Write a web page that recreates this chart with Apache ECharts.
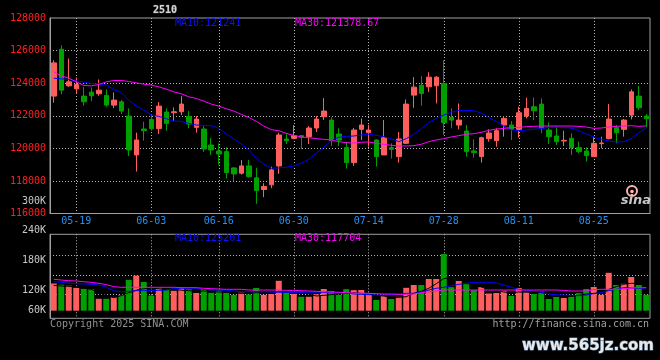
<!DOCTYPE html>
<html><head><meta charset="utf-8">
<script src="https://cdn.jsdelivr.net/npm/echarts@6/dist/echarts.min.js"></script>
<style>html,body{margin:0;padding:0;background:#000}#c{width:660px;height:360px}</style>
</head><body><div id="c"></div>
<script>
const dates = ['05-14','05-15','05-16','05-19','05-20','05-21','05-22','05-23','05-26','05-27',
'05-28','05-29','05-30','06-03','06-04','06-05','06-06','06-09','06-10','06-11',
'06-12','06-13','06-16','06-17','06-18','06-19','06-20','06-23','06-24','06-25',
'06-26','06-27','06-30','07-01','07-02','07-03','07-04','07-07','07-08','07-09',
'07-10','07-11','07-14','07-15','07-16','07-17','07-18','07-21','07-22','07-23',
'07-24','07-25','07-28','07-29','07-30','07-31','08-01','08-04','08-05','08-06',
'08-07','08-08','08-11','08-12','08-13','08-14','08-15','08-18','08-19','08-20',
'08-21','08-22','08-25','08-26','08-27','08-28','08-29','09-01','09-02','09-03'];
const tickLabels = ['05-19','06-03','06-16','06-30','07-14','07-28','08-11','08-25'];
const priceTicks = [116000,118000,120000,122000,124000,126000,128000];
const volTickLabels = ['240K','180K','120K','60K'];

const opens = [123205,126082,123838,123654,123205,123450,123348,123246,122654,122858,
121981,119594,121186,121777,121206,122226,122185,122246,121961,121287,
121186,120206,119839,119798,118799,118472,118921,118187,117473,117758,
118921,120574,120614,120778,120716,121247,121940,121736,120880,120043,
119125,121165,120961,120512,119594,120043,119492,120308,123266,123878,
123776,123838,123980,121900,121430,121063,119839,119492,120594,120472,
121430,121430,121165,121981,122552,122716,121124,120757,120451,120614,
120043,119839,119492,120288,120594,121267,121165,122042,123205,121981];
const closes = [125245,123572,124082,123919,122858,123226,123572,122654,122960,122287,
119900,120512,121084,121206,122593,121532,122246,122716,121492,121798,
119962,119900,119655,118513,118431,118921,118268,117412,117656,118676,
120818,120472,120778,120676,121247,121798,122287,120472,120512,119125,
121124,121430,121124,119492,120655,119941,120574,122716,123756,123368,
124368,124368,121573,121736,121736,119798,119737,120655,120941,121084,
121838,121165,122185,122450,122308,121226,120716,120410,120492,120043,
119798,119553,120308,120329,121798,120961,121736,123470,122491,121818];
const lows = [122797,123328,123776,123368,122614,122899,123226,122552,122471,122104,
119533,118574,120472,121084,120880,121084,121675,122042,121226,120961,
119778,119594,118982,118146,117983,118390,118207,116596,117004,117554,
118431,120268,120553,119941,120268,121002,121736,120145,120145,118758,
118921,120512,120104,118880,119594,119370,119125,120268,122491,122614,
123470,122756,120818,121226,121165,119492,119431,119125,120410,120104,
120716,120512,120655,121838,121736,120920,120268,120206,120145,119594,
119696,119186,119492,120002,120553,120308,120716,121777,122348,121287];
const highs = [125408,126326,125510,124348,123776,123736,124225,123613,123430,122960,
122450,120961,121634,122104,122838,122450,122512,123205,122287,121981,
121369,120635,120308,120064,118840,119288,119288,118799,117860,118880,
120961,120920,121430,120798,121369,121981,123083,121900,121226,120369,
121247,121838,121450,120553,121736,120308,121002,123001,124368,124429,
124674,124429,125408,122450,122756,121430,120553,120716,121165,121226,
121981,121675,122552,123103,123124,123063,121594,121328,121084,120920,
120410,120064,120716,120716,122716,121430,121798,123613,123838,122104];
const ma10 = [124307,124266,124225,124144,124062,123980,123960,123878,123613,123430,
122960,122593,122348,122042,121961,121818,121675,121655,121532,121430,
121410,121390,121226,120880,120574,120268,119900,119390,119023,118778,
118799,118840,118921,119084,119329,119696,120064,120472,120676,120737,
120757,120818,120859,120798,120716,120574,120410,120594,120859,121206,
121573,121838,122042,122226,122328,122328,122308,122165,121900,121655,
121369,121124,121084,121124,121165,121206,121288,121308,121288,121247,
121084,120880,120696,120553,120451,120390,120410,120594,120960,121241];
const ma30 = [124700,124450,124307,124082,123858,123838,123919,124082,124164,124164,
124103,124021,123940,123878,123776,123634,123470,123348,123164,123062,
122899,122716,122593,122430,122287,122083,121900,121655,121369,121145,
121084,120920,120798,120696,120655,120594,120553,120512,120410,120349,
120329,120370,120390,120308,120247,120186,120145,120145,120166,120247,
120410,120512,120594,120696,120778,120859,120900,120982,121104,121186,
121226,121267,121288,121328,121349,121369,121369,121369,121369,121369,
121349,121308,121226,121247,121308,121349,121369,121390,121349,121379];
const volumes = [134400,132000,130000,125800,123800,123000,103800,103800,107400,111400,
141800,150200,137400,110400,125000,122800,119800,126000,122800,115400,
123400,115800,120400,115800,111800,116200,112400,125400,111800,113400,
139800,116200,113800,107800,107800,112800,123400,119400,111800,123000,
121000,121400,115000,101400,109400,103400,107800,125800,131400,131400,
143400,143400,193400,127000,139400,133000,121000,127000,114400,115400,
119800,109800,125400,116800,113400,118400,103400,107400,105400,108000,
115000,123400,127400,111800,155800,131400,133800,147400,131400,111800];
const volMa5 = [130700,129400,128700,127400,125400,122700,116000,110000,106000,110000,
116000,121000,124000,125000,124000,122000,122700,121000,120100,118700,
119400,118700,117400,116700,115400,114700,114700,116100,115400,115400,
118700,118700,117400,117400,113400,109400,110700,112100,113400,114700,
116100,114700,113400,110700,109400,106700,106700,108000,114800,119000,
124800,134000,144100,146800,145400,142700,137400,127400,122700,120700,
117400,116100,117400,117400,116100,116100,113400,112100,108100,109400,
110700,113400,114700,116100,122700,128000,133000,134800,134700,132100];
const volMa10 = [138000,136700,134800,134100,133400,132700,131400,126800,120000,118000,
118700,120000,120000,120000,120700,121400,124100,124800,124800,124800,
122800,121400,121400,120700,119400,118000,118000,118000,118000,117400,
116800,116800,116800,116800,116800,116800,116800,116000,116000,115400,
113400,112800,112100,111400,111400,112100,113400,114800,114800,116800,
121400,124800,126800,130000,132700,134800,136800,136800,136800,135400,
131400,126800,122800,120700,119400,116800,113400,112100,111400,110700,
110000,111400,114100,116100,120000,122800,126100,125400,124800,125201];
const volMa30 = [142800,141400,140000,139400,138000,136700,134800,132100,128100,126800,
126800,126800,126800,126800,126800,126800,126800,126100,126100,126100,
124800,124100,123400,122800,122800,122800,121400,121400,121400,121400,
121400,120700,120700,120000,119400,118700,118000,117400,116800,116100,
115400,114800,114800,114100,113400,113400,112800,112800,113400,116100,
118000,119400,121400,121400,121400,121400,121400,121400,121400,121400,
121400,121400,121400,121400,121400,121400,121400,121400,120700,119400,
119400,119400,122100,122800,122800,122800,123400,125400,126000,126000];

const UP = '#ff5e5e', DOWN = '#00a000';
const FONT = 'DejaVu Sans Mono';
const GRIDC = '#b4b4b4';
const dotted = {color: GRIDC, width: 1, type: [1, 2]};
const isTick = (i, v) => tickLabels.indexOf(v) >= 0;

const chart = echarts.init(document.getElementById('c'), null, {renderer: 'canvas'});
const txt = (x, y, text, fill, align, extra) => Object.assign({
  type: 'text', x: x, y: y, silent: true, z: 100,
  style: {text: text, fill: fill, font: '10px ' + FONT, align: align || 'left', verticalAlign: 'middle'}
}, extra || {});

chart.setOption({
  backgroundColor: '#000',
  animation: false,
  grid: [
    {left: 50, top: 18, width: 600, height: 195.5, show: true, borderColor: '#a0a0a0', borderWidth: 1},
    {left: 50, top: 234.3, width: 600, height: 76.4},
    {left: 50, top: 236.2, width: 600, height: 78},
    {left: 50, top: 234.3, width: 600, height: 84, show: true, borderColor: '#a0a0a0', borderWidth: 1}
  ],
  xAxis: [
    {type: 'category', gridIndex: 0, data: dates, boundaryGap: true,
     axisLine: {show: true, lineStyle: {color: '#a0a0a0'}}, axisTick: {show: false},
     axisLabel: {interval: isTick, color: '#2590f0', fontSize: 10, fontFamily: FONT, margin: 3},
     splitLine: {show: true, interval: isTick, alignWithLabel: true, lineStyle: dotted}},
    {type: 'category', gridIndex: 1, data: dates, boundaryGap: true,
     axisLine: {show: false}, axisTick: {show: false}, axisLabel: {show: false}, splitLine: {show: false}},
    {type: 'category', gridIndex: 2, data: dates, boundaryGap: true,
     axisLine: {show: false}, axisTick: {show: false}, axisLabel: {show: false}, splitLine: {show: false}},
    {type: 'category', gridIndex: 3, data: dates, boundaryGap: true,
     axisLine: {show: false}, axisTick: {show: false}, axisLabel: {show: false},
     splitLine: {show: true, interval: isTick, alignWithLabel: true, lineStyle: dotted}}
  ],
  yAxis: [
    {type: 'value', gridIndex: 0, min: priceTicks[0], max: priceTicks[priceTicks.length - 1], interval: 2000,
     axisLine: {show: true, lineStyle: {color: '#a0a0a0'}}, axisTick: {show: false},
     axisLabel: {color: '#ff2020', fontSize: 10, fontFamily: FONT, margin: 4, padding: [0, 0, 4, 0],
                 formatter: v => String(v)},
     splitLine: {show: true, showMinLine: false, showMaxLine: false, lineStyle: dotted}},
    {type: 'value', gridIndex: 1, min: 80000, max: 232800,
     axisLine: {show: false}, axisTick: {show: false}, axisLabel: {show: false}, splitLine: {show: false}},
    {type: 'value', gridIndex: 2, min: 0, max: 4, interval: 1,
     axisLine: {show: false}, axisTick: {show: false}, axisLabel: {show: false},
     splitLine: {show: true, showMinLine: false, showMaxLine: false, lineStyle: dotted}},
    {type: 'value', gridIndex: 3, min: 0, max: 1,
     axisLine: {show: true, lineStyle: {color: '#a0a0a0'}}, axisTick: {show: false}, axisLabel: {show: false}, splitLine: {show: false}}
  ],
  series: [
    {type: 'candlestick', xAxisIndex: 0, yAxisIndex: 0, barWidth: 5,
     data: dates.map((d, i) => [opens[i], closes[i], lows[i], highs[i]]),
     itemStyle: {color: UP, color0: DOWN, borderColor: UP, borderColor0: DOWN, borderWidth: 1}},
    {type: 'line', xAxisIndex: 0, yAxisIndex: 0, data: ma10, symbol: 'none', silent: true,
     lineStyle: {color: '#0000ff', width: 1}},
    {type: 'line', xAxisIndex: 0, yAxisIndex: 0, data: ma30, symbol: 'none', silent: true,
     lineStyle: {color: '#ff00ff', width: 1}},
    {type: 'bar', xAxisIndex: 1, yAxisIndex: 1, barWidth: 6, data: volumes, clip: true,
     itemStyle: {color: p => closes[p.dataIndex] >= opens[p.dataIndex] ? UP : DOWN}},
    {type: 'line', xAxisIndex: 1, yAxisIndex: 1, data: volMa5, symbol: 'none', silent: true,
     lineStyle: {color: '#000000', width: 1}},
    {type: 'line', xAxisIndex: 1, yAxisIndex: 1, data: volMa10, symbol: 'none', silent: true,
     lineStyle: {color: '#0000ff', width: 1}},
    {type: 'line', xAxisIndex: 1, yAxisIndex: 1, data: volMa30, symbol: 'none', silent: true,
     lineStyle: {color: '#ff00ff', width: 1}}
  ],
  graphic: [
    txt(165, 10, '2510', '#d4d4d4', 'center', {style: {text: '2510', fill: '#d4d4d4', font: 'bold 10px ' + FONT, align: 'center', verticalAlign: 'middle', stroke: '#606060', lineWidth: 0.6}}),
    txt(175, 23.7, 'MA10:' + ma10[ma10.length - 1], '#1010ff'),
    txt(295, 23.7, 'MA30:121378.67', '#ff00ff'),
    txt(46, 201, '300K', '#c8c8c8', 'right'),
    txt(46, 230.7, volTickLabels[0], '#c8c8c8', 'right'),
    txt(46, 260.7, volTickLabels[1], '#c8c8c8', 'right'),
    txt(46, 290, volTickLabels[2], '#c8c8c8', 'right'),
    txt(46, 310.7, volTickLabels[3], '#c8c8c8', 'right'),
    txt(175, 238.7, 'MA10:' + volMa10[volMa10.length - 1], '#1010ff'),
    txt(295, 238.7, 'MA30:117704', '#ff00ff'),
    txt(50, 324, 'Copyright 2025 SINA.COM', '#909090'),
    txt(649, 324, 'http://finance.sina.com.cn', '#a0a0a0', 'right'),
    {type: 'circle', shape: {cx: 632, cy: 191, r: 5}, silent: true, z: 100,
     style: {fill: 'none', stroke: '#ffb0b0', lineWidth: 2}},
    {type: 'circle', shape: {cx: 632, cy: 191.5, r: 1.8}, silent: true, z: 100,
     style: {fill: '#ffb0b0'}},
    txt(651, 201, 'sina', '#c8c8c8', 'right', {style: {text: 'sina', fill: '#c8c8c8', font: 'italic bold 13px DejaVu Sans', align: 'right', verticalAlign: 'middle'}}),
    txt(654, 346, 'www.565jz.com', '#e0e0e0', 'right', {style: {text: 'www.565jz.com', fill: '#e8e8e8', font: 'bold 15px DejaVu Sans', align: 'right', verticalAlign: 'middle', stroke: '#6080a0', lineWidth: 1}})
  ]
});
</script></body></html>
